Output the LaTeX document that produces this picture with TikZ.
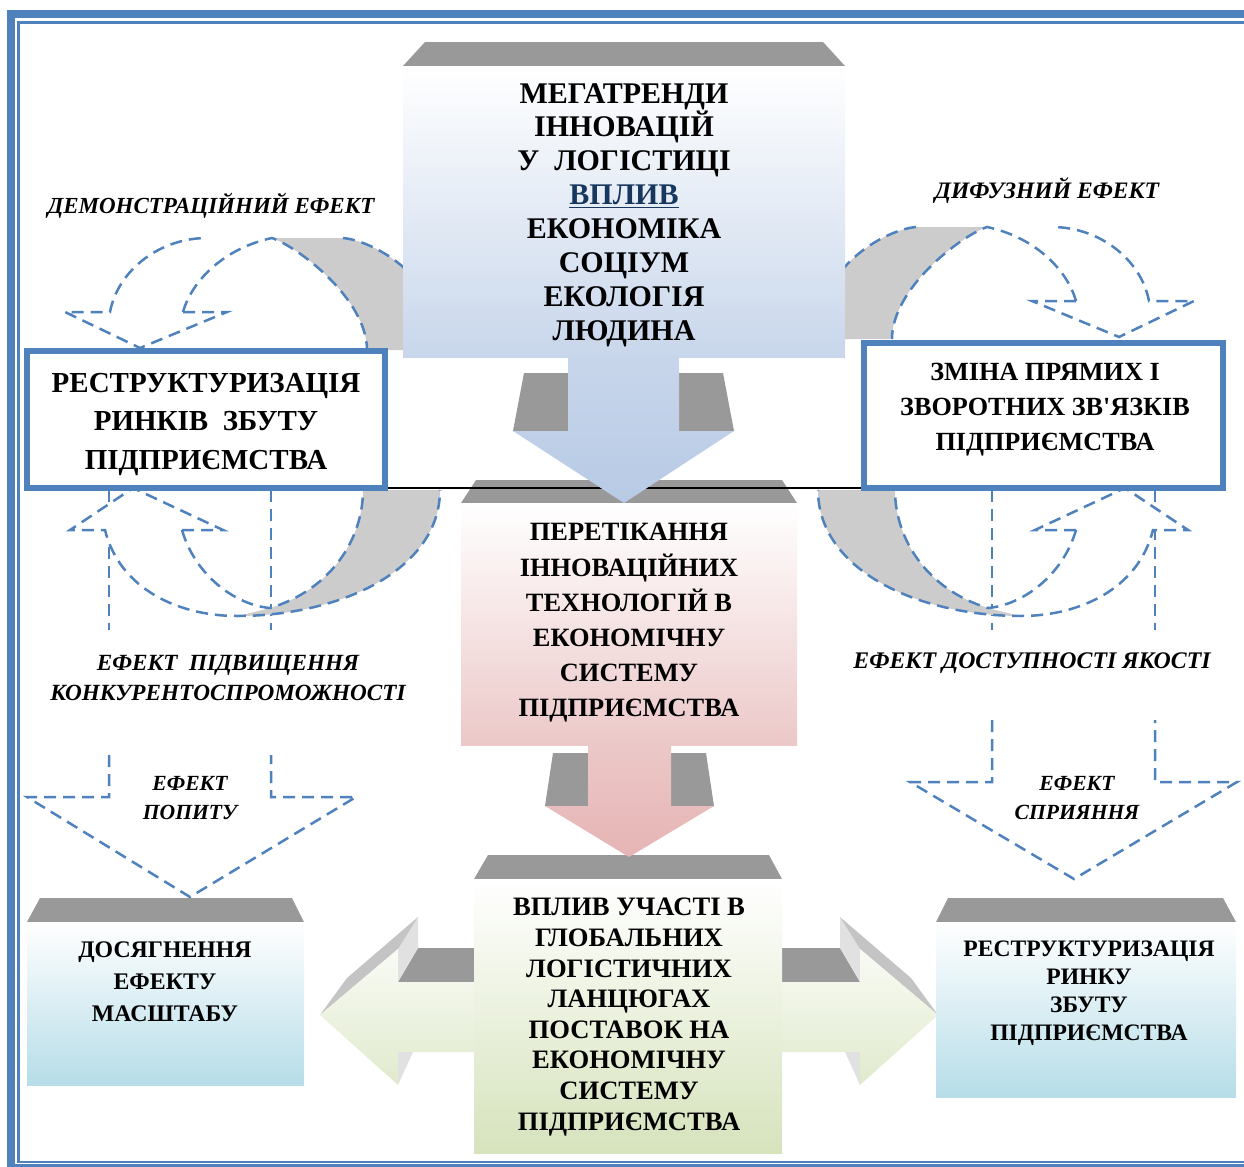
\documentclass[tikz,border=0pt]{standalone}
\usepackage{fontspec}
\setmainfont{Liberation Serif}[Ligatures=TeXOff]
\usetikzlibrary{positioning}
\definecolor{frameblue}{RGB}{79,129,189}
\definecolor{lidgray}{RGB}{153,153,153}
\definecolor{facegray}{RGB}{204,204,204}
\definecolor{edgegray}{RGB}{196,196,196}
\definecolor{backgray}{RGB}{225,225,225}
\definecolor{bluebot}{RGB}{200,214,235}
\definecolor{bluetip}{RGB}{183,202,229}
\definecolor{pinkbot}{RGB}{236,200,200}
\definecolor{pinktip}{RGB}{230,180,180}
\definecolor{greenbot}{RGB}{214,227,188}
\definecolor{aquabot}{RGB}{182,221,232}
\definecolor{vplivblue}{RGB}{23,55,94}
\tikzset{
  effect-dash/.style={draw=frameblue, line width=1.25pt, dash pattern=on 6pt off 3.5pt},
  back-face/.style={fill=facegray},
  front-face/.style={fill=white},
  lid-face/.style={fill=lidgray},
  border-box/.style={draw=frameblue, line width=3pt, fill=white},
  box-text/.style={align=center, inner sep=0pt},
  effect-label/.style={align=center, inner sep=0pt},
  pics/curve-down/.style={code={
    \fill[back-face] (272,238) -- (343,238) .. controls (365,240) and (400,258) .. (420,285) -- (420,350) -- (367,350) .. controls (367,300) and (300,248) .. (272,238) -- cycle;
    \fill[front-face] (110,312) .. controls (118,270) and (160,238) .. (207,238) -- (272,238) .. controls (225,248) and (192,280) .. (183,312) -- cycle;
    \fill[front-face] (65,312) -- (227,312) -- (140,348) -- cycle;
    \draw[effect-dash] (183,312) -- (227,312) -- (140,348) -- (65,312) -- (110,312) .. controls (118,270) and (160,238) .. (207,238);
    \draw[effect-dash] (183,312) .. controls (192,280) and (225,248) .. (272,238) .. controls (300,248) and (367,300) .. (367,350);
    \draw[effect-dash] (343,238) .. controls (365,240) and (400,258) .. (420,285);
  }},
  pics/curve-up/.style={code={
    \fill[back-face] (270,608) .. controls (330,590) and (363,540) .. (363,490) -- (440,490) .. controls (440,570) and (340,616) .. (237,616) -- cycle;
    \fill[front-face] (105,530) .. controls (120,590) and (180,616) .. (237,616) -- (270,608) .. controls (235,605) and (195,575) .. (182,530) -- cycle;
    \fill[front-face] (70,530) -- (223,530) -- (133,488) -- cycle;
    \draw[effect-dash] (182,530) -- (223,530) -- (133,488) -- (70,530) -- (105,530) .. controls (120,590) and (180,616) .. (237,616) .. controls (340,616) and (440,570) .. (440,490);
    \draw[effect-dash] (182,530) .. controls (195,575) and (235,605) .. (270,608) .. controls (330,590) and (363,540) .. (363,490);
  }},
  pics/side-arrow/.style={code={
    \fill[lid-face] (418,948) -- (480,948) -- (480,982) -- (398,982) -- cycle;
    \fill[backgray] (398,949) -- (418,917) -- (418,948) -- (398,982) -- cycle;
    \fill[backgray] (398,1052) -- (413,1052) -- (398,1085) -- cycle;
    \fill[edgegray] (320,1015) -- (347,978) -- (418,917) -- (398,949) -- cycle;
    \shade[top color=greenbot!15!white, bottom color=greenbot!75!white] (320,1015) -- (398,949) -- (398,982) -- (480,982) -- (480,1052) -- (398,1052) -- (398,1085) -- cycle;
  }}
}

\begin{document}
\begin{tikzpicture}[x=0.5pt, y=-0.5pt]
  \useasboundingbox (0,0) rectangle (1244,1167);
  % double frame, open to the right
  \draw[frameblue, line width=3.75pt] (1250,14) -- (11,14) -- (11,1167.5) -- (1250,1167.5);
  \draw[frameblue, line width=1.25pt] (1250,22.5) -- (18.5,22.5) -- (18.5,1162) -- (1250,1162);

  % dashed outline arrows down to the lower boxes
  \draw[effect-dash] (109,490) -- (109,630);
  \draw[effect-dash] (271,490) -- (271,630);
  \draw[effect-dash] (109,755) -- (109,797) -- (27,797) -- (190,897) -- (356,797) -- (271,797) -- (271,755);
  \draw[effect-dash] (992,490) -- (992,630);
  \draw[effect-dash] (1155,490) -- (1155,630);
  \draw[effect-dash] (992,720) -- (992,782) -- (910,782) -- (1074,879) -- (1237,782) -- (1155,782) -- (1155,720);

  % curved effect arrows
  \pic at (0,0) {curve-down};
  \pic[xscale=-1] at (1259,-11) {curve-down};
  \pic at (0,0) {curve-up};
  \pic[xscale=-1] at (1258,0) {curve-up};

  % arrows out of the bottom box
  \pic at (0,0) {side-arrow};
  \pic[xscale=-1] at (1258,0) {side-arrow};
  \fill[lid-face] (488,855) -- (769,855) -- (782,879) -- (474,879) -- cycle;
  \shade[top color=white, bottom color=greenbot] (474,879) rectangle (782,1153);

  % lower side boxes
  \fill[lid-face] (40,898) -- (292,898) -- (304,922) -- (27,922) -- cycle;
  \shade[top color=white, bottom color=aquabot] (27,922) rectangle (304,1085);
  \fill[lid-face] (948,898) -- (1223,898) -- (1236,922) -- (936,922) -- cycle;
  \shade[top color=white, bottom color=aquabot] (936,922) rectangle (1236,1097);

  % middle box and its arrow
  \fill[lid-face] (476,480) -- (782,480) -- (797,503) -- (461,503) -- cycle;
  \shade[top color=white, bottom color=pinkbot] (461,503) rectangle (797,745);
  \fill[lid-face] (553,753) -- (588,753) -- (588,806) -- (545,806) -- cycle;
  \fill[lid-face] (671,753) -- (706,753) -- (714,806) -- (671,806) -- cycle;
  \shade[top color=pinkbot, bottom color=pinktip] (588,743) -- (671,743) -- (671,806) -- (714,806) -- (629,857) -- (545,806) -- (588,806) -- cycle;
  \draw[line width=1pt] (388,488) -- (862,488);

  % top box and its arrow
  \fill[lid-face] (425,42) -- (823,42) -- (845,66) -- (403,66) -- cycle;
  \shade[top color=white, bottom color=bluebot] (403,66) rectangle (845,357);
  \fill[lid-face] (524,373) -- (568,373) -- (568,431) -- (513,431) -- cycle;
  \fill[lid-face] (679,373) -- (723,373) -- (734,431) -- (679,431) -- cycle;
  \shade[top color=bluebot, bottom color=bluetip] (568,355) -- (679,355) -- (679,431) -- (734,431) -- (624,503) -- (513,431) -- (568,431) -- cycle;

  % framed side boxes
  \node[border-box, minimum width=179pt, minimum height=68.5pt] (markets) at (206,419.5) {};
  \node[border-box, minimum width=179.5pt, minimum height=72.5pt] (links) at (1043.5,415.5) {};

  % texts
  \node[box-text, font=\bfseries\fontsize{15}{16.95}\selectfont] (megatrends) at (624,215) {МЕГАТРЕНДИ\\ІННОВАЦІЙ\\У~~ЛОГІСТИЦІ\\\textcolor{vplivblue}{\underline{ВПЛИВ}}\\ЕКОНОМІКА\\СОЦІУМ\\ЕКОЛОГІЯ\\ЛЮДИНА};
  \node[box-text, font=\bfseries\fontsize{14.5}{19.25}\selectfont] (markets-text) at (206,424) {РЕСТРУКТУРИЗАЦІЯ\\РИНКІВ~~ЗБУТУ\\ПІДПРИЄМСТВА};
  \node[box-text, font=\bfseries\fontsize{13.1}{17.5}\selectfont] (links-text) at (1045,410) {ЗМІНА ПРЯМИХ І\\ЗВОРОТНИХ ЗВ'ЯЗКІВ\\ПІДПРИЄМСТВА};
  \node[box-text, font=\bfseries\fontsize{13.2}{17.6}\selectfont] (transfer) at (629,623) {ПЕРЕТІКАННЯ\\ІННОВАЦІЙНИХ\\ТЕХНОЛОГІЙ В\\ЕКОНОМІЧНУ\\СИСТЕМУ\\ПІДПРИЄМСТВА};
  \node[box-text, font=\bfseries\fontsize{13.3}{15.3}\selectfont] (chains) at (629,1017) {ВПЛИВ УЧАСТІ В\\ГЛОБАЛЬНИХ\\ЛОГІСТИЧНИХ\\ЛАНЦЮГАХ\\ПОСТАВОК НА\\ЕКОНОМІЧНУ\\СИСТЕМУ\\ПІДПРИЄМСТВА};
  \node[box-text, font=\bfseries\fontsize{11.9}{16}\selectfont] (scale) at (165,982) {ДОСЯГНЕННЯ\\ЕФЕКТУ\\МАСШТАБУ};
  \node[box-text, font=\bfseries\fontsize{11.8}{14}\selectfont] (sales) at (1089,993) {РЕСТРУКТУРИЗАЦІЯ\\РИНКУ\\ЗБУТУ\\ПІДПРИЄМСТВА};

  % effect labels
  \node[effect-label, font=\bfseries\itshape\fontsize{11.5}{15}\selectfont] (demo) at (211,206) {ДЕМОНСТРАЦІЙНИЙ ЕФЕКТ};
  \node[effect-label, font=\bfseries\itshape\fontsize{11.8}{15}\selectfont] (diffuse) at (1047,191) {ДИФУЗНИЙ ЕФЕКТ};
  \node[effect-label, font=\bfseries\itshape\fontsize{11.6}{15}\selectfont] (rivalry) at (228,678) {ЕФЕКТ~~ПІДВИЩЕННЯ\\КОНКУРЕНТОСПРОМОЖНОСТІ};
  \node[effect-label, font=\bfseries\itshape\fontsize{11.9}{15}\selectfont] (quality) at (1032,663) {ЕФЕКТ ДОСТУПНОСТІ ЯКОСТІ};
  \node[effect-label, font=\bfseries\itshape\fontsize{10.8}{14.5}\selectfont] (demand) at (190,798) {ЕФЕКТ\\ПОПИТУ};
  \node[effect-label, font=\bfseries\itshape\fontsize{10.8}{14.5}\selectfont] (support) at (1077,798) {ЕФЕКТ\\СПРИЯННЯ};
\end{tikzpicture}
\end{document}
